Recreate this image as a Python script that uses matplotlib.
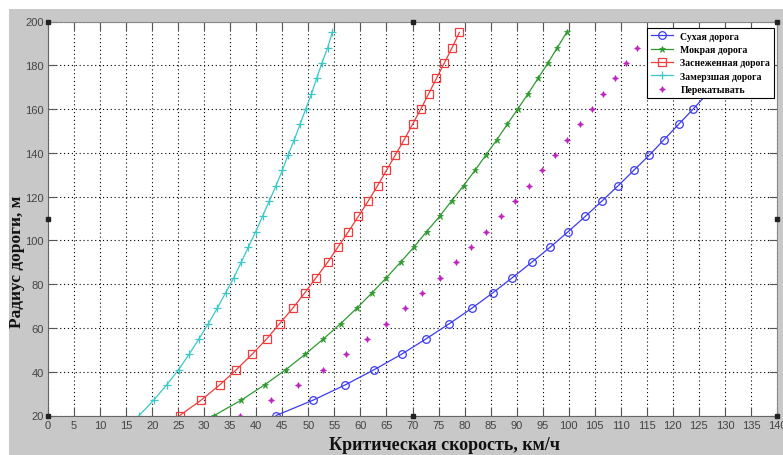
import matplotlib
matplotlib.use("Agg")
import matplotlib.pyplot as plt
from matplotlib.patches import Rectangle

# радиус дороги, м
radius = [20, 27, 34, 41, 48, 55, 62, 69, 76, 83, 90, 97, 104, 111, 118,
          125, 132, 139, 146, 153, 160, 167, 174, 181, 188, 195]

# критическая скорость, км/ч
v_dry = [43.8, 50.9, 57.1, 62.7, 67.9, 72.6, 77.1, 81.4, 85.4, 89.2, 92.9, 96.5, 99.9,
         103.2, 106.4, 109.5, 112.5, 115.5, 118.3, 121.1, 123.9, 126.6, 129.2, 131.8, 134.3, 136.8]
v_wet = [31.9, 37.1, 41.6, 45.7, 49.4, 52.9, 56.2, 59.3, 62.2, 65.0, 67.7, 70.3, 72.7,
         75.2, 77.5, 79.8, 82.0, 84.1, 86.2, 88.2, 90.2, 92.2, 94.1, 96.0, 97.8, 99.6]
v_snow = [25.3, 29.4, 33.0, 36.2, 39.2, 42.0, 44.5, 47.0, 49.3, 51.5, 53.7, 55.7, 57.7,
          59.6, 61.5, 63.3, 65.0, 66.7, 68.4, 70.0, 71.6, 73.1, 74.6, 76.1, 77.6, 79.0]
v_ice = [17.5, 20.3, 22.8, 25.1, 27.1, 29.0, 30.8, 32.5, 34.1, 35.7, 37.1, 38.5, 39.9,
         41.2, 42.5, 43.8, 45.0, 46.1, 47.3, 48.4, 49.5, 50.6, 51.6, 52.6, 53.7, 54.6]
v_roll = [36.9, 42.9, 48.1, 52.8, 57.2, 61.2, 65.0, 68.5, 71.9, 75.2, 78.3, 81.3, 84.1,
          86.9, 89.6, 92.3, 94.8, 97.3, 99.7, 102.1, 104.4, 106.6, 108.8, 111.0, 113.1]

labels = ["Сухая дорога", "Мокрая дорога", "Заснеженная дорога",
          "Замерзшая дорога", "Перекатывать"]

W, H = 783, 456
fig = plt.figure(figsize=(W / 100, H / 100), dpi=100)
fig.patch.set_facecolor("white")
fig.patches.append(Rectangle((9 / W, 0), 1 - 9 / W, (H - 10) / H,
                             transform=fig.transFigure, facecolor="#c8c8c8",
                             edgecolor="none", zorder=-10))

ax = fig.add_axes([48 / W, (H - 416.5) / H, 729 / W, 394 / H])
ax.set_facecolor("white")

ax.plot(v_dry, radius, "-o", color="#3b3bf0", lw=0.9, ms=5.5, mfc="none", mew=0.9, label=labels[0])
ax.plot(v_wet, radius, "-*", color="#2f9a2f", lw=0.9, ms=4.5, mew=0.5, label=labels[1])
ax.plot(v_snow, radius, "-s", color="#f03c3c", lw=0.9, ms=5.5, mfc="none", mew=0.9, label=labels[2])
ax.plot(v_ice, radius, "-+", color="#3cc8c8", lw=0.9, ms=6, mew=0.9, label=labels[3])
ax.plot(v_roll, radius[:len(v_roll)], linestyle="none", marker=(4, 1, 0),
        color="#c020c0", ms=4.5, mew=0.3, label=labels[4])

ax.set_xlim(0, 140)
ax.set_ylim(20, 200)
ax.set_xticks(range(0, 141, 5))
ax.set_yticks(range(20, 201, 20))
ax.grid(True, color="black", linestyle=(0, (1, 2.5)), linewidth=0.8)
ax.tick_params(direction="in", top=True, right=True, length=6, width=0.8,
               color="#555555", labelsize=8, labelcolor="#444444", pad=3)
for lab in ax.get_xticklabels() + ax.get_yticklabels():
    lab.set_family("Liberation Sans")
for side in ["left", "bottom"]:
    ax.spines[side].set_color("#666666")
for side in ["top", "right"]:
    ax.spines[side].set_color("#888888")

leg = ax.legend(loc="upper right", bbox_to_anchor=(0.996, 0.984), borderaxespad=0,
                fancybox=False, edgecolor="black", framealpha=1, handlelength=2.2,
                labelspacing=0.45, borderpad=0.4, handletextpad=0.8,
                prop={"family": "Liberation Serif", "weight": "bold", "size": 7})
leg.get_frame().set_linewidth(0.8)
leg.set_zorder(20)

# маркеры выделения осей
for hx, hy in [(0, 0), (0, 0.5), (0, 1), (0.5, 0), (0.5, 1), (1, 0), (1, 0.5), (1, 1)]:
    ax.plot(hx, hy, "s", color="#222222", ms=3.5, transform=ax.transAxes,
            clip_on=False, zorder=30)

fig.text(444 / W, 1 - 446 / H, "Критическая скорость, км/ч", ha="center", va="center",
         family="Liberation Serif", weight="bold", fontsize=13, color="#111111")
fig.text(17 / W, 1 - 262 / H, "Радиус дороги, м", ha="center", va="center", rotation=90,
         family="Liberation Serif", weight="bold", fontsize=12.5, color="#111111")

fig.savefig("out.png", dpi=100, facecolor=fig.get_facecolor())
